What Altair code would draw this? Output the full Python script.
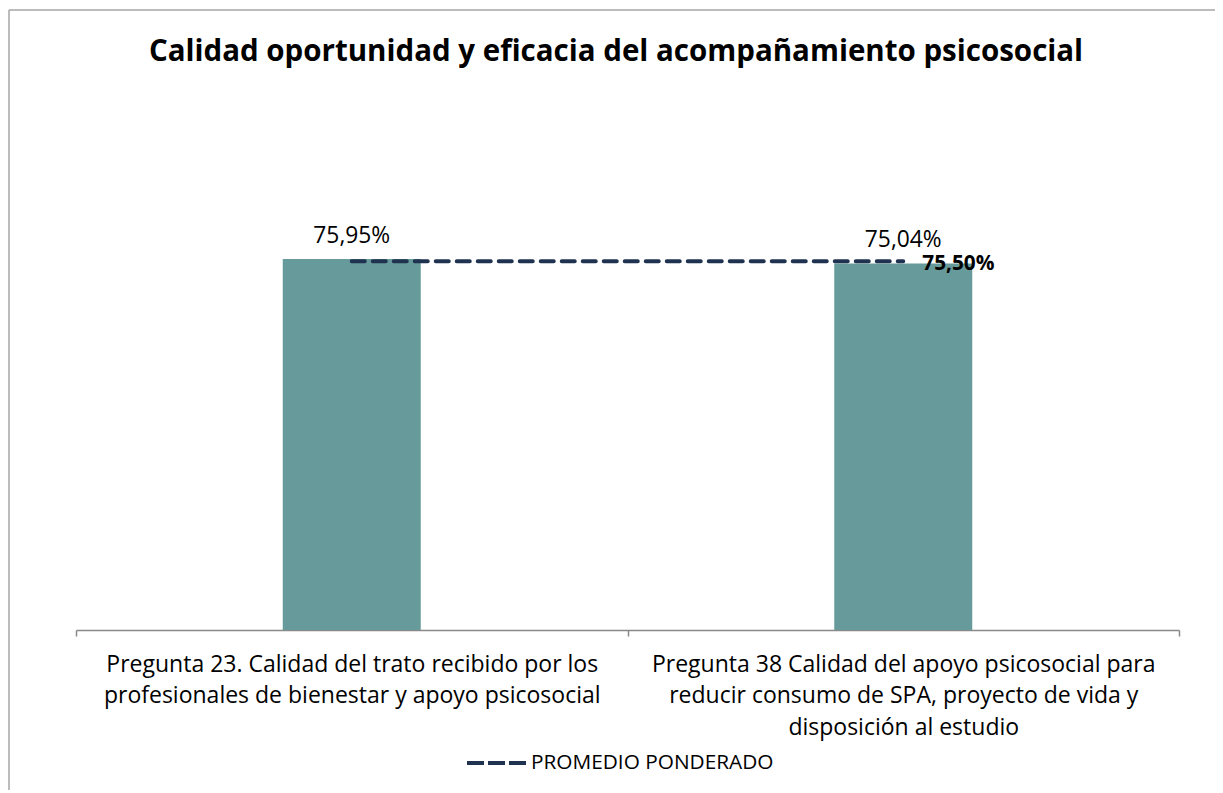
import altair as alt
import pandas as pd

categorias = [
    "Pregunta 23. Calidad del trato recibido por los|profesionales de bienestar y apoyo psicosocial",
    "Pregunta 38 Calidad del apoyo psicosocial para|reducir consumo de SPA, proyecto de vida y|disposición al estudio",
]
valores = [75.95, 75.04]
promedio = 75.50
serie_promedio = "PROMEDIO PONDERADO"
titulo = "Calidad oportunidad y eficacia del acompañamiento psicosocial"


def fmt(v):
    return f"{v:.2f}".replace(".", ",") + "%"


bars_df = pd.DataFrame({"cat": categorias, "val": valores, "lab": [fmt(v) for v in valores]})
avg_df = pd.DataFrame({"cat": categorias, "val": [promedio] * len(categorias),
                       "serie": [serie_promedio] * len(categorias)})
avg_lab_df = pd.DataFrame({"cat": [categorias[-1]], "val": [promedio], "lab": [fmt(promedio)]})
title_df = pd.DataFrame({"t": [titulo]})
one = pd.DataFrame({"a": [0]})

FONT = "Open Sans"
W, H = 1103, 488.5
NAVY = "#1F3350"
GRAY = "#898989"

x = alt.X(
    "cat:N", sort=categorias,
    scale=alt.Scale(paddingInner=0, paddingOuter=0),
    axis=alt.Axis(
        title=None, labelExpr="split(datum.label, '|')", labelAngle=0,
        labelFont=FONT, labelFontSize=23, labelColor="#000000",
        labelLineHeight=31.5, labelLimit=0, labelPadding=17,
        domainColor=GRAY, domainWidth=1.5, tickColor=GRAY, tickWidth=1.5,
        tickSize=6, tickBand="extent", grid=False,
    ),
)
y = alt.Y("val:Q", scale=alt.Scale(domain=[0, 100], nice=False, zero=True), axis=None)

base = alt.Chart(bars_df)
bars = base.mark_bar(size=138, color="#679A9A").encode(x=x, y=y)
labels = base.mark_text(baseline="bottom", dy=-11, fontSize=22.8, font=FONT, color="#000000").encode(
    x=alt.X("cat:N", sort=categorias), y=y, text="lab:N")

line = alt.Chart(avg_df).mark_line(strokeDash=[13, 8], strokeWidth=4, strokeCap="round").encode(
    x=alt.X("cat:N", sort=categorias), y=y,
    color=alt.Color("serie:N", scale=alt.Scale(range=[NAVY]), legend=alt.Legend(
        title=None, orient="none", legendX=389, legendY=590,
        symbolType="stroke", symbolSize=3481, symbolStrokeWidth=4, symbolDash=[17, 4],
        labelFont=FONT, labelFontSize=20.8, labelColor="#000000", labelOffset=3, labelLimit=0,
    )),
)
avg_label = alt.Chart(avg_lab_df).mark_text(
    align="left", baseline="middle", dx=19, dy=3, fontSize=20.8, fontWeight="bold", font=FONT, color="#000000"
).encode(x=alt.X("cat:N", sort=categorias), y=y, text="lab:N")

title = alt.Chart(title_df).mark_text(
    fontSize=29.5, fontWeight="bold", font=FONT, color="#000000", baseline="alphabetic", align="center"
).encode(text="t:N", x=alt.value(540), y=alt.value(-80.5))

border_left = alt.Chart(one).mark_rule(color="#A6A6A6", strokeWidth=1.5).encode(
    x=alt.value(-67), y=alt.value(-131.5), y2=alt.value(700))
border_top = alt.Chart(one).mark_rule(color="#A6A6A6", strokeWidth=1.5).encode(
    x=alt.value(-67), x2=alt.value(1300), y=alt.value(-131.5))

chart = alt.layer(border_left, border_top, title, bars, labels, line, avg_label).properties(
    width=W, height=H,
    autosize=alt.AutoSizeParams(type="none"),
    padding={"left": 68, "top": 133.5, "right": 36, "bottom": 160},
).configure_view(stroke=None)

chart.save("out.html", embed_options={"renderer": "svg", "actions": False})
